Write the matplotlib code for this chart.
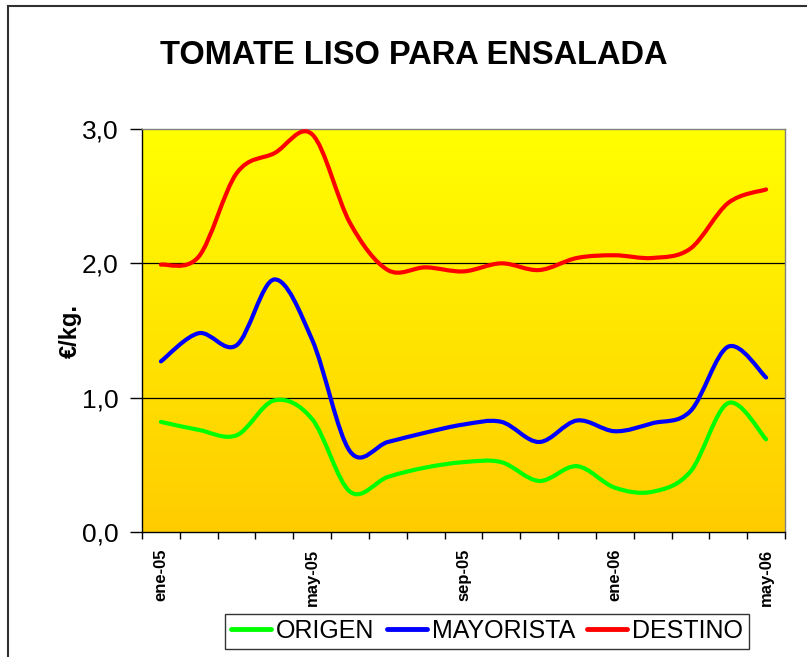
import numpy as np
import matplotlib.pyplot as plt
from matplotlib.path import Path
from matplotlib.patches import PathPatch
from matplotlib.lines import Line2D

plt.rcParams['font.family'] = ['Liberation Sans', 'DejaVu Sans']

# monthly prices, ene-05 .. may-06 (euro/kg)
meses = ['ene-05', 'feb-05', 'mar-05', 'abr-05', 'may-05', 'jun-05', 'jul-05', 'ago-05',
         'sep-05', 'oct-05', 'nov-05', 'dic-05', 'ene-06', 'feb-06', 'mar-06', 'abr-06', 'may-06']
origen = [0.82, 0.76, 0.72, 0.98, 0.84, 0.30, 0.41, 0.48, 0.52, 0.52, 0.38, 0.49,
          0.33, 0.30, 0.45, 0.96, 0.69]
mayorista = [1.27, 1.48, 1.39, 1.88, 1.43, 0.60, 0.67, 0.74, 0.80, 0.82, 0.67, 0.83,
             0.75, 0.81, 0.90, 1.38, 1.15]
destino = [1.99, 2.05, 2.67, 2.82, 2.96, 2.30, 1.95, 1.97, 1.94, 2.00, 1.95, 2.04,
           2.06, 2.04, 2.11, 2.45, 2.55]

series = [('ORIGEN', origen, '#00ff00'),
          ('MAYORISTA', mayorista, '#0000ff'),
          ('DESTINO', destino, '#ff0000')]


def smooth_path(xs, ys):
    # Excel-style smoothed line: cubic Bezier segments through every point
    p = np.column_stack([xs, ys]).astype(float)
    n = len(p)
    verts = [p[0]]
    codes = [Path.MOVETO]
    for i in range(n - 1):
        p0 = p[i - 1] if i > 0 else p[i]
        p3 = p[i + 2] if i + 2 < n else p[i + 1]
        c1 = p[i] + (p[i + 1] - p0) / 6.0
        c2 = p[i + 1] - (p3 - p[i]) / 6.0
        verts += [c1, c2, p[i + 1]]
        codes += [Path.CURVE4] * 3
    return Path(verts, codes)


W, H = 807, 657
fig = plt.figure(figsize=(W / 100, H / 100), dpi=100)
ax = fig.add_axes([142 / W, 1 - 532 / H, (785 - 142) / W, (532 - 129) / H])

x = np.arange(len(meses))
ax.set_xlim(-0.5, len(meses) - 0.5)
ax.set_ylim(0, 3)

# yellow-to-orange gradient background
grad = np.linspace(0, 1, 256).reshape(-1, 1)
top = np.array([1.0, 1.0, 0.0])
bot = np.array([1.0, 0.8, 0.0])
img = top + (bot - top) * grad[:, :, None] * np.ones((1, 2, 1))
ax.imshow(img, extent=[-0.5, len(meses) - 0.5, 0, 3], aspect='auto',
          origin='upper', zorder=0, interpolation='bilinear')

for yv in [1, 2]:
    ax.axhline(yv, color='black', lw=0.9, zorder=1)

handles = []
for name, vals, col in series:
    patch = PathPatch(smooth_path(x, vals), facecolor='none', edgecolor=col,
                      lw=3.0, capstyle='round', joinstyle='round', zorder=3)
    ax.add_patch(patch)
    handles.append(Line2D([], [], color=col, lw=3.5, solid_capstyle='round'))

ax.set_yticks([0, 1, 2, 3])
ax.set_yticklabels(['0,0', '1,0', '2,0', '3,0'], fontsize=19)
ax.tick_params(axis='y', direction='out', length=9, width=1, pad=8)

ax.set_xticks(x[::4])
ax.set_xticklabels(meses[::4], rotation=90, fontsize=12, fontweight='bold')
ax.set_xticks(np.arange(-0.5, len(meses)), minor=True)
ax.tick_params(axis='x', which='major', length=0, pad=12)
ax.tick_params(axis='x', which='minor', direction='out', length=5, width=1)

for s in ['left', 'bottom']:
    ax.spines[s].set_color('black')
    ax.spines[s].set_linewidth(1.0)
for s in ['top', 'right']:
    ax.spines[s].set_color('#808080')
    ax.spines[s].set_linewidth(1.0)

ax.set_ylabel('€/kg.', fontsize=17, fontweight='bold', labelpad=0)

fig.text(414 / W, 1 - 55 / H, 'TOMATE LISO PARA ENSALADA', ha='center', va='center',
         fontsize=23.5, fontweight='bold')

leg = fig.legend(handles, [s[0] for s in series], loc='center', ncol=3,
                 bbox_to_anchor=(487 / W, 1 - 631 / H), fontsize=18,
                 frameon=True, fancybox=False, edgecolor='black', handlelength=1.6,
                 handletextpad=0.2, columnspacing=0.5, borderpad=0.22,
                 borderaxespad=0)
leg.get_frame().set_linewidth(1.0)

# chart border (left and top edges)
fig.add_artist(Line2D([8 / W, 8 / W], [0, 1 - 6 / H], color='#303030', lw=1.5))
fig.add_artist(Line2D([8 / W, 1], [1 - 6 / H, 1 - 6 / H], color='#303030', lw=1.5))

fig.savefig('out.png', dpi=100)
